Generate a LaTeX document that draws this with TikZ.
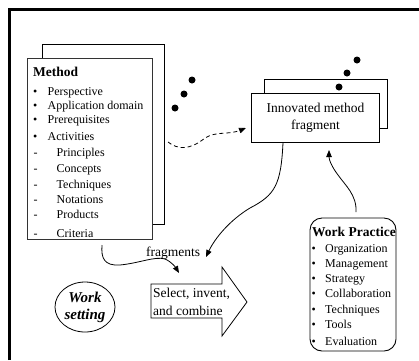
\documentclass[tikz,border=0pt]{standalone}
\usepackage{fontspec}
\setmainfont{Liberation Serif}
\usetikzlibrary{arrows.meta,shapes.geometric}
\begin{document}
\begin{tikzpicture}[x=1pt,y=-1pt,
  page/.style={draw=black, line width=0.9pt, fill=white, anchor=north west, inner sep=0},
  item/.style={anchor=base west, inner sep=0, font=\fontsize{12}{14}\selectfont},
  head/.style={anchor=base west, inner sep=0, font=\fontsize{13.5}{16}\selectfont\bfseries},
  lbl/.style={anchor=base west, inner sep=0, font=\fontsize{13.5}{16}\selectfont},
  link/.style={line width=0.8pt, -{Triangle[length=7pt,width=5.5pt]}},
  dot/.style={circle, fill=black, minimum size=7pt, inner sep=0},
]
\useasboundingbox (0,0) rectangle (419,360);

% outer frame (top and left edges)
\draw[line width=2.3pt] (9.5,360) -- (9.5,9.5) -- (419,9.5);

% method pages
\node[page, minimum width=122pt, minimum height=180pt] (methodback) at (42,44) {};
\node[page, draw=black!80, line width=1.3pt, minimum width=125pt, minimum height=181pt] (method) at (27,58) {};
\node[head] (mtitle) at (33,76.5) {Method};
\foreach \t/\yy [count=\i] in {Perspective/95.5, Application domain/109, Prerequisites/123, Activities/140} {
  \node[item] (mbul\i) at (33,\yy) {•};
  \node[item] (mitem\i) at (47.5,\yy) {\t};
}
\foreach \t/\yy [count=\i] in {Principles/156, Concepts/172, Techniques/188, Notations/203, Products/218, Criteria/237} {
  \node[item] (mdash\i) at (33.5,\yy) {-};
  \node[item] (msub\i) at (56.5,\yy) {\t};
}

% innovated method fragment pages
\node[page, minimum width=123pt, minimum height=49pt] (innovback) at (264,79) {};
\node[page, minimum width=128pt, minimum height=49pt, align=center,
      font=\fontsize{13.5}{17}\selectfont] (innov) at (251,93) {Innovated method\\fragment};

% ellipsis dots
\node[dot] (d1) at (192,80) {};
\node[dot] (d2) at (184,94) {};
\node[dot] (d3) at (175,108) {};
\node[dot] (d4) at (357,60) {};
\node[dot] (d5) at (347,73) {};
\node[dot] (d6) at (339,87) {};

% work practice
\draw[line width=0.9pt, rounded corners=12pt] (310,218) rectangle (396,351);
\node[head] (wtitle) at (312,236.5) {Work Practice};
\foreach \t/\yy [count=\i] in {Organization/252, Management/267, Strategy/282, Collaboration/297.3, Techniques/313, Tools/328.7, Evaluation/345.3} {
  \node[item] (wbul\i) at (311.5,\yy) {•};
  \node[item] (witem\i) at (325,\yy) {\t};
}

% work setting
\node[ellipse, draw, line width=0.8pt, minimum width=60pt, minimum height=50pt, inner sep=0,
      align=center, font=\fontsize{15}{17}\selectfont\bfseries\itshape] (setting) at (85,307) {Work\\setting};

% select, invent, and combine block arrow
\draw[line width=0.8pt, fill=white] (151,284) -- (222,284) -- (222,267) -- (247,302) -- (222,336) -- (222,318) -- (151,318) -- cycle;
\node[lbl] (sel1) at (153,297.5) {Select, invent,};
\node[lbl] (sel2) at (153,315) {and combine};
\node[lbl] (frag) at (146,256.5) {fragments};

% connector end points
\coordinate (mstart) at (102,245);
\coordinate (mend) at (179,273);
\coordinate (istart) at (283,142.5);
\coordinate (iend) at (206,257);
\coordinate (dstart) at (168,142);
\coordinate (dend) at (246,128);
\coordinate (wstart) at (356,212);
\coordinate (wend) at (329,150);

\draw[link, dashed, dash pattern=on 4pt off 3pt] (dstart) .. controls (178,150) and (190,150) .. (205,138)
  .. controls (216,131) and (228,135) .. (dend);
\draw[link] (istart) .. controls (281,185) and (275,195) .. (250,208)
  .. controls (230,220) and (215,238) .. (iend);
\draw[link] (mstart) .. controls (101,258) and (104,266) .. (120,265)
  .. controls (140,263) and (155,256) .. (165,259)
  .. controls (172,262) and (176,268) .. (mend);
\draw[link] (wstart) .. controls (357,195) and (345,185) .. (338,175)
  .. controls (332,167) and (329,160) .. (wend);
\end{tikzpicture}
\end{document}
